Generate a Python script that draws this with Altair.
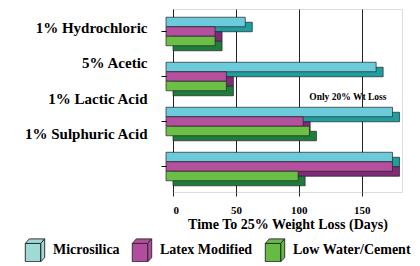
import altair as alt
import pandas as pd

categories = ["1% Hydrochloric", "5% Acetic", "1% Lactic Acid", "1% Sulphuric Acid"]
series = ["Microsilica", "Latex Modified", "Low Water/Cement"]
microsilica = [63, 167, 180, 180]
latex_modified = [39, 48, 109, 180]
low_water_cement = [39, 48, 114, 105]
x_ticks = [0, 50, 100, 150]
note_text = ["Only 20% Wt Loss"]
note_category = ["1% Lactic Acid"]
note_value = [180]

face_colors = ["#6CCBDB", "#B5509E", "#6BBF47"]
side_colors = ["#1F9EA0", "#7E2C7A", "#1E7D3C"]
legend_colors = ["#9FDAD6", "#B24C9E", "#66BB44"]

rows = []
for i, c in enumerate(categories):
    for s, vals in zip(series, [microsilica, latex_modified, low_water_cement]):
        rows.append({"category": c, "series": s, "value": vals[i], "zero": 0})
df = pd.DataFrame(rows)
note_df = pd.DataFrame({"category": note_category, "value": note_value, "text": note_text})

FONT = "Liberation Serif"

xscale = alt.Scale(domain=[0, 182], nice=False, zero=True)
yscale = alt.Scale(domain=categories, paddingInner=0, paddingOuter=0.033, align=0)
face_off = alt.Scale(domain=series, paddingInner=0, paddingOuter=0.868, range=[0, 45])
side_off = alt.Scale(domain=series, paddingInner=0, paddingOuter=0.868, range=[5, 50])

label_offset = {
    "condition": [
        {"test": "datum.value == '5% Acetic'", "value": -13.5},
        {"test": "datum.value == '1% Lactic Acid'", "value": -23},
        {"test": "datum.value == '1% Sulphuric Acid'", "value": -33},
    ],
    "value": -3.5,
}

x_axis = alt.Axis(
    values=x_ticks, grid=True, gridColor="#222", gridWidth=1, domain=False,
    tickSize=4, tickColor="#222", labelPadding=8, labelFont=FONT,
    labelFontWeight="bold", labelFontSize=11, labelColor="black",
    title="Time To 25% Weight Loss (Days)", titleFont=FONT, titleFontSize=14,
    titleFontWeight="bold", titleColor="black", titlePadding=2,
)
y_axis = alt.Axis(
    title=None, domain=False, offset=7, tickSize=5, tickColor="black",
    labelPadding=14, labelFont=FONT, labelFontSize=15, labelFontWeight="bold",
    labelColor="black", labelOffset=label_offset, grid=False,
)

X = alt.X("zero:Q", scale=xscale, axis=x_axis)
X2 = alt.X2("value:Q")
Y = alt.Y("category:N", scale=yscale, sort=categories, axis=y_axis)

layers = []
for s, fc, sc in zip(series, face_colors, side_colors):
    sub = alt.Chart(df).transform_filter(alt.datum.series == s)
    shadow = sub.mark_rect(
        color=sc, stroke="#222", strokeWidth=0.7,
    ).encode(x=X, x2=X2, y=Y, yOffset=alt.YOffset("series:N", scale=side_off, sort=series))
    face = sub.mark_rect(
        color=fc, stroke="#222", strokeWidth=0.7,
        xOffset=-7, x2Offset=-7,
    ).encode(x=X, x2=X2, y=Y, yOffset=alt.YOffset("series:N", scale=face_off, sort=series))
    layers += [shadow, face]

cube = ("M-0.85,-0.6 L0.5,-0.6 L0.5,1 L-0.85,1 Z "
        "M-0.85,-0.6 L-0.5,-1 L0.85,-1 L0.5,-0.6 Z "
        "M0.5,-0.6 L0.85,-1 L0.85,0.65 L0.5,1 Z")

legend_layer = alt.Chart(df).mark_point(filled=True, opacity=0).encode(
    x=X, y=Y,
    color=alt.Color(
        "series:N",
        scale=alt.Scale(domain=series, range=legend_colors),
        legend=alt.Legend(
            orient="none", legendX=-150, legendY=229, direction="horizontal",
            title=None, symbolType=cube, symbolSize=520, symbolStrokeColor="#333",
            symbolStrokeWidth=1, symbolOpacity=1, labelFont=FONT,
            labelFontWeight="bold", labelFontSize=14, labelColor="black",
            columnPadding=10, labelOffset=6, columns=3,
        ),
    ),
)

note = alt.Chart(note_df).mark_text(
    font=FONT, fontWeight="bold", fontSize=9.5, color="black",
    align="right", baseline="middle", dx=-13, dy=-25,
).encode(x=alt.X("value:Q", scale=xscale), y=alt.Y("category:N", scale=yscale, sort=categories), text="text:N")

chart = alt.layer(*layers, legend_layer, note).resolve_scale(yOffset="independent").properties(
    width=229, height=183, autosize="none",
    padding={"left": 165, "top": 1, "right": 10, "bottom": 70},
).configure_view(stroke="black", strokeWidth=1).configure(background="white")

chart.save("out.html", embed_options={"renderer": "svg", "actions": False})
